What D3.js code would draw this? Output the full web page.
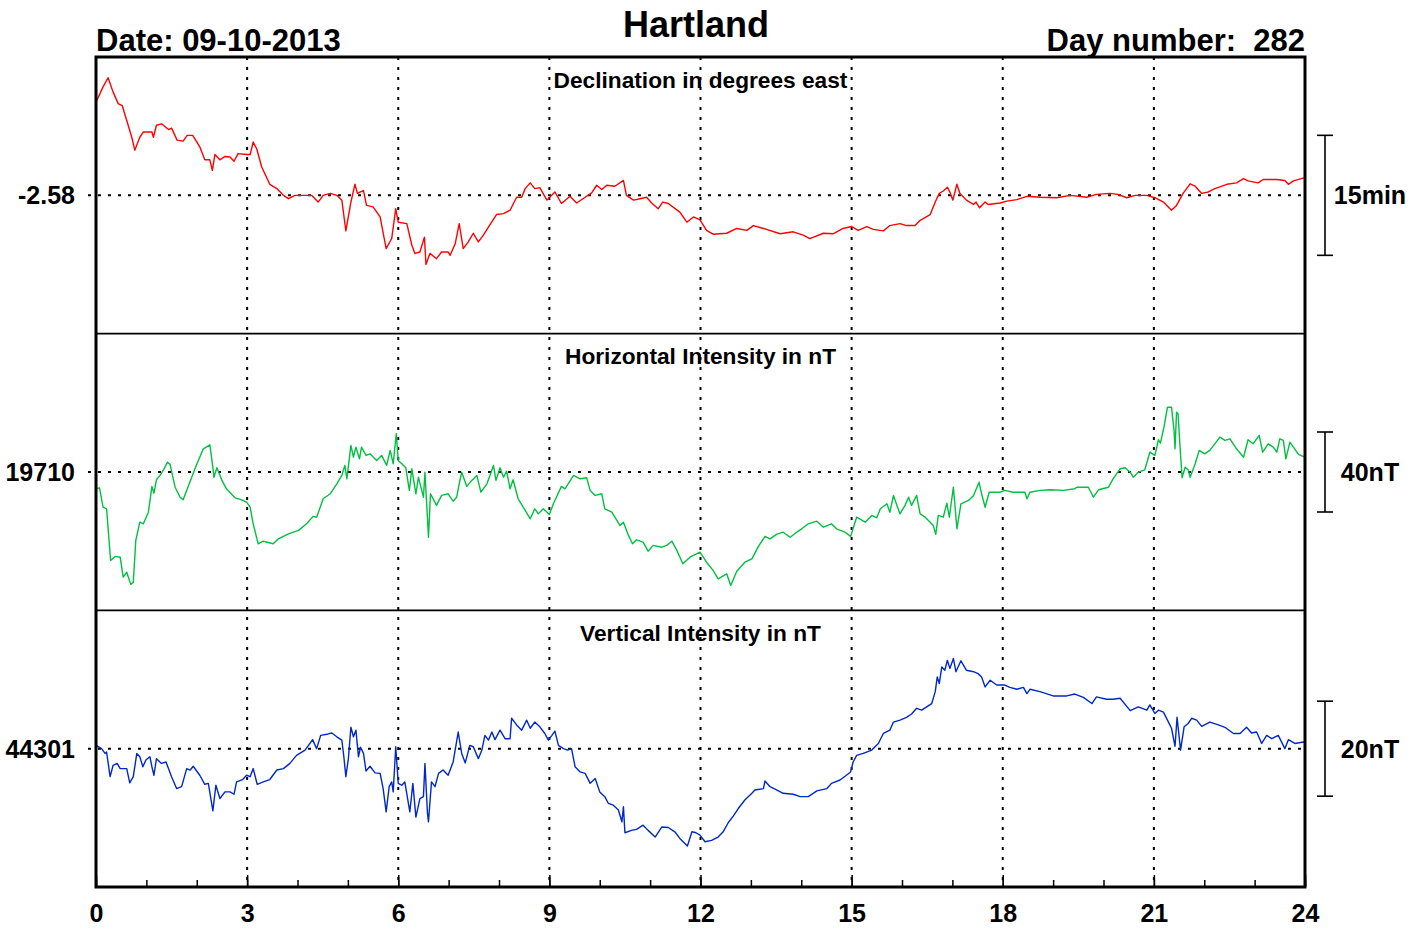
<!DOCTYPE html>
<html>
<head>
<meta charset="utf-8">
<script src="https://cdn.jsdelivr.net/npm/d3@7"></script>
<style>
  body { margin: 0; background: #fff; }
  svg { display: block; font-family: "Liberation Sans", Arial, Helvetica, sans-serif; font-weight: bold; }
</style>
</head>
<body>
<div id="chart"></div>
<script>
// values (hours UT / degrees / nT)
const D_HOURS = [0.00,0.14,0.24,0.34,0.44,0.52,0.61,0.71,0.77,0.87,0.94,1.11,1.14,1.20,1.30,1.44,1.50,1.61,1.73,1.81,1.92,2.06,2.16,2.26,2.31,2.36,2.46,2.56,2.66,2.74,2.82,2.99,3.06,3.12,3.19,3.29,3.45,3.59,3.72,3.82,3.95,4.28,4.41,4.51,4.65,4.78,4.88,4.96,5.06,5.14,5.19,5.25,5.31,5.37,5.50,5.64,5.76,5.87,5.95,6.00,6.17,6.27,6.33,6.43,6.52,6.55,6.63,6.76,6.86,6.99,7.03,7.13,7.21,7.29,7.39,7.49,7.59,7.69,7.79,7.95,8.09,8.22,8.35,8.45,8.52,8.62,8.71,8.81,8.95,9.11,9.24,9.41,9.54,9.71,9.84,9.94,10.04,10.14,10.30,10.47,10.53,10.67,10.80,10.93,11.03,11.16,11.25,11.36,11.59,11.73,11.86,11.99,12.12,12.25,12.52,12.72,12.92,13.05,13.25,13.58,13.84,14.04,14.17,14.44,14.64,14.83,15.00,15.13,15.30,15.43,15.63,15.76,15.96,16.09,16.26,16.36,16.56,16.66,16.74,16.82,16.90,16.95,17.01,17.09,17.15,17.28,17.42,17.47,17.54,17.65,17.71,17.95,18.08,18.28,18.48,18.74,19.07,19.34,19.67,19.86,20.13,20.29,20.46,20.63,20.86,21.02,21.19,21.35,21.45,21.58,21.72,21.82,21.95,22.08,22.21,22.45,22.64,22.78,22.87,23.07,23.17,23.44,23.60,23.67,23.77,24.00];
const D_VALUES = [-2.386,-2.354,-2.335,-2.365,-2.389,-2.393,-2.424,-2.459,-2.486,-2.459,-2.448,-2.448,-2.459,-2.434,-2.431,-2.443,-2.440,-2.465,-2.467,-2.455,-2.455,-2.479,-2.506,-2.506,-2.528,-2.495,-2.506,-2.499,-2.500,-2.509,-2.493,-2.495,-2.495,-2.469,-2.483,-2.521,-2.557,-2.566,-2.580,-2.587,-2.580,-2.580,-2.594,-2.580,-2.576,-2.580,-2.590,-2.654,-2.594,-2.557,-2.576,-2.573,-2.570,-2.601,-2.604,-2.625,-2.691,-2.670,-2.608,-2.636,-2.639,-2.684,-2.701,-2.698,-2.667,-2.724,-2.701,-2.712,-2.698,-2.698,-2.705,-2.681,-2.639,-2.691,-2.677,-2.659,-2.677,-2.663,-2.646,-2.620,-2.618,-2.611,-2.584,-2.584,-2.566,-2.554,-2.566,-2.564,-2.590,-2.573,-2.597,-2.582,-2.596,-2.584,-2.575,-2.559,-2.568,-2.559,-2.561,-2.549,-2.580,-2.590,-2.587,-2.584,-2.596,-2.608,-2.594,-2.597,-2.615,-2.636,-2.625,-2.631,-2.653,-2.661,-2.659,-2.649,-2.653,-2.643,-2.649,-2.660,-2.656,-2.663,-2.670,-2.659,-2.660,-2.649,-2.645,-2.653,-2.645,-2.651,-2.654,-2.643,-2.639,-2.643,-2.643,-2.632,-2.620,-2.594,-2.576,-2.571,-2.563,-2.573,-2.590,-2.557,-2.576,-2.590,-2.599,-2.594,-2.606,-2.594,-2.599,-2.596,-2.592,-2.589,-2.582,-2.584,-2.585,-2.580,-2.584,-2.578,-2.576,-2.578,-2.585,-2.580,-2.580,-2.585,-2.594,-2.611,-2.601,-2.576,-2.556,-2.561,-2.576,-2.573,-2.566,-2.557,-2.554,-2.545,-2.550,-2.554,-2.547,-2.547,-2.549,-2.557,-2.550,-2.543];

const H_HOURS = [0.00,0.07,0.14,0.21,0.29,0.38,0.48,0.54,0.61,0.69,0.74,0.79,0.87,0.94,1.04,1.11,1.15,1.20,1.27,1.34,1.42,1.47,1.57,1.67,1.73,1.83,1.99,2.13,2.26,2.32,2.34,2.40,2.50,2.59,2.76,2.89,2.99,3.06,3.12,3.22,3.32,3.52,3.62,3.82,4.02,4.18,4.31,4.38,4.51,4.65,4.78,4.88,4.94,4.98,5.06,5.11,5.16,5.23,5.27,5.36,5.44,5.57,5.67,5.77,5.84,5.90,5.96,6.00,6.07,6.15,6.22,6.27,6.35,6.40,6.50,6.53,6.60,6.64,6.76,6.86,6.99,7.09,7.16,7.21,7.26,7.36,7.46,7.56,7.64,7.76,7.82,7.89,7.94,8.02,8.09,8.15,8.22,8.28,8.38,8.52,8.62,8.71,8.78,8.88,9.00,9.08,9.24,9.31,9.48,9.61,9.74,9.81,9.91,10.04,10.10,10.24,10.30,10.40,10.47,10.57,10.65,10.73,10.86,10.96,11.06,11.23,11.33,11.43,11.53,11.65,11.79,11.99,12.12,12.25,12.35,12.52,12.60,12.72,12.88,13.02,13.15,13.28,13.38,13.51,13.64,13.78,13.91,14.01,14.14,14.31,14.44,14.60,14.70,14.87,14.98,15.10,15.27,15.40,15.50,15.57,15.70,15.76,15.83,15.90,15.96,16.06,16.13,16.19,16.29,16.36,16.46,16.56,16.62,16.67,16.72,16.82,16.89,16.94,17.02,17.09,17.17,17.32,17.42,17.53,17.58,17.65,17.73,17.95,18.04,18.21,18.44,18.48,18.54,18.74,18.94,19.20,19.43,19.47,19.70,19.80,19.90,20.10,20.19,20.33,20.43,20.53,20.59,20.69,20.82,20.92,21.02,21.09,21.13,21.20,21.27,21.35,21.40,21.42,21.45,21.48,21.52,21.56,21.62,21.68,21.72,21.82,21.90,22.01,22.11,22.21,22.31,22.41,22.51,22.64,22.78,22.87,22.97,23.09,23.16,23.27,23.37,23.44,23.50,23.57,23.62,23.70,23.77,23.87,24.00];
const H_VALUES = [19701.6,19702.1,19692.4,19691.6,19665.8,19667.8,19667.4,19657.4,19659.9,19653.8,19654.9,19675.8,19684.9,19684.1,19689.9,19702.8,19699.4,19706.1,19708.3,19711.1,19714.9,19713.8,19702.4,19697.4,19696.1,19702.8,19713.3,19721.6,19723.6,19712.4,19707.4,19712.1,19705.8,19701.6,19697.1,19696.1,19694.9,19692.4,19684.1,19674.1,19675.4,19674.1,19676.6,19679.1,19680.8,19684.1,19687.8,19687.4,19696.6,19699.1,19704.1,19708.3,19713.3,19706.6,19723.3,19717.4,19722.4,19716.6,19722.4,19718.3,19719.1,19715.8,19718.3,19713.3,19720.8,19714.1,19729.1,19715.8,19714.1,19712.1,19700.8,19711.6,19699.1,19707.4,19697.4,19709.9,19677.4,19699.1,19693.3,19698.3,19699.1,19695.4,19697.4,19704.1,19709.9,19702.8,19705.8,19708.3,19699.9,19704.1,19708.3,19713.3,19705.8,19712.1,19707.4,19710.4,19701.6,19706.1,19696.6,19690.8,19686.6,19691.6,19689.1,19691.6,19688.8,19694.1,19702.8,19701.6,19708.3,19706.6,19707.1,19700.8,19698.3,19699.1,19691.6,19689.9,19687.4,19683.3,19684.9,19678.3,19674.1,19676.1,19674.9,19670.4,19673.3,19672.4,19673.3,19675.4,19670.8,19664.1,19667.4,19669.9,19664.9,19660.8,19656.6,19659.1,19653.3,19660.4,19664.9,19666.6,19672.8,19677.8,19676.6,19678.8,19679.9,19677.4,19679.9,19681.6,19684.1,19685.4,19682.4,19684.1,19681.6,19679.9,19677.8,19687.4,19684.9,19688.3,19687.1,19691.6,19694.1,19689.9,19698.3,19693.3,19689.1,19693.3,19697.4,19693.3,19698.3,19689.1,19687.4,19684.9,19683.3,19678.8,19688.3,19687.4,19694.4,19687.4,19702.4,19681.6,19694.1,19695.8,19698.3,19704.9,19699.1,19692.4,19699.9,19699.9,19700.8,19699.9,19699.9,19696.6,19699.9,19700.8,19701.1,19700.8,19701.6,19702.4,19702.4,19697.4,19701.1,19702.4,19706.6,19711.6,19712.1,19709.9,19707.4,19709.9,19711.1,19719.9,19718.3,19726.1,19724.4,19732.4,19742.4,19742.4,19730.8,19721.6,19739.9,19739.1,19722.4,19707.1,19712.4,19711.1,19707.4,19714.1,19720.8,19719.1,19720.8,19724.1,19727.4,19725.8,19726.6,19721.6,19717.4,19726.1,19724.1,19728.3,19719.9,19724.1,19722.4,19719.9,19726.6,19725.8,19716.6,19724.9,19722.4,19718.8,19717.4];

const Z_HOURS = [0.00,0.11,0.18,0.21,0.28,0.34,0.42,0.48,0.54,0.61,0.67,0.74,0.81,0.87,0.93,0.99,1.07,1.11,1.15,1.20,1.30,1.39,1.50,1.60,1.70,1.80,1.87,1.93,2.06,2.16,2.23,2.32,2.38,2.46,2.56,2.66,2.74,2.79,2.91,2.99,3.06,3.12,3.20,3.32,3.45,3.59,3.72,3.85,3.98,4.15,4.30,4.38,4.46,4.61,4.68,4.78,4.88,4.92,4.96,5.01,5.06,5.11,5.16,5.21,5.25,5.31,5.36,5.44,5.54,5.64,5.70,5.76,5.82,5.87,5.90,5.95,6.00,6.07,6.13,6.23,6.29,6.35,6.43,6.50,6.53,6.58,6.60,6.66,6.73,6.80,6.89,6.99,7.09,7.19,7.26,7.33,7.42,7.49,7.59,7.66,7.72,7.79,7.86,7.92,8.02,8.12,8.22,8.25,8.35,8.45,8.55,8.62,8.71,8.81,8.91,8.98,9.05,9.11,9.18,9.28,9.36,9.44,9.51,9.61,9.71,9.81,9.91,10.00,10.10,10.17,10.27,10.37,10.44,10.47,10.50,10.63,10.73,10.86,10.96,11.10,11.23,11.36,11.49,11.59,11.74,11.83,11.91,11.99,12.09,12.22,12.35,12.45,12.55,12.65,12.75,12.88,13.02,13.08,13.25,13.28,13.38,13.51,13.64,13.84,13.98,14.14,14.31,14.51,14.60,14.77,14.87,14.98,15.03,15.10,15.23,15.40,15.53,15.63,15.76,15.83,15.96,16.09,16.19,16.29,16.39,16.49,16.59,16.66,16.70,16.74,16.79,16.85,16.90,16.95,17.02,17.07,17.17,17.28,17.42,17.51,17.58,17.65,17.75,17.88,18.04,18.14,18.28,18.41,18.48,18.54,18.74,19.00,19.27,19.43,19.60,19.77,19.86,20.06,20.19,20.33,20.53,20.69,20.86,20.92,21.02,21.09,21.19,21.29,21.35,21.42,21.46,21.53,21.60,21.68,21.75,21.85,21.95,22.11,22.28,22.41,22.58,22.71,22.84,22.94,23.04,23.14,23.24,23.34,23.47,23.60,23.67,23.80,23.97,24.00];
const Z_VALUES = [44301.7,44301.0,44300.0,44300.3,44295.1,44297.5,44297.9,44296.8,44296.8,44296.8,44293.8,44295.1,44300.0,44299.3,44297.2,44298.6,44299.3,44297.2,44295.4,44298.9,44297.9,44298.2,44295.1,44292.6,44293.0,44296.8,44296.5,44297.3,44295.4,44293.5,44293.7,44287.9,44293.3,44290.5,44291.9,44291.9,44291.4,44294.0,44294.5,44295.4,44295.1,44296.8,44293.5,44294.0,44294.5,44296.5,44296.8,44297.9,44299.6,44300.7,44302.9,44301.0,44303.8,44304.1,44304.3,44303.5,44302.8,44299.3,44295.1,44298.9,44305.5,44303.5,44304.9,44299.3,44301.3,44300.0,44296.3,44297.3,44295.9,44295.8,44292.6,44287.7,44293.0,44294.0,44291.9,44301.4,44293.7,44293.3,44294.0,44287.7,44293.7,44286.6,44290.5,44290.9,44297.9,44287.4,44285.6,44294.0,44293.0,44295.8,44296.5,44295.4,44298.2,44304.5,44300.0,44298.0,44301.7,44301.4,44298.9,44300.7,44303.8,44302.8,44304.5,44302.9,44304.9,44303.1,44303.1,44307.4,44306.0,44304.9,44307.0,44305.3,44306.6,44305.6,44304.2,44302.8,44303.8,44304.7,44301.7,44301.0,44300.7,44301.0,44297.2,44296.1,44295.8,44293.7,44294.7,44291.9,44290.9,44289.5,44289.1,44288.1,44285.6,44288.8,44283.3,44283.8,44284.0,44284.9,44283.8,44282.4,44284.5,44284.4,44283.5,44282.1,44280.5,44283.5,44283.3,44282.8,44281.4,44281.7,44282.4,44283.5,44285.4,44286.8,44288.4,44290.2,44291.6,44292.3,44292.6,44294.2,44293.0,44292.3,44291.6,44291.4,44290.9,44290.9,44292.1,44292.6,44293.7,44294.4,44295.2,44296.1,44298.2,44299.6,44300.0,44300.7,44302.1,44304.2,44304.9,44306.6,44307.0,44307.6,44308.3,44309.5,44309.1,44309.8,44310.5,44313.0,44316.1,44314.7,44318.2,44317.5,44319.6,44317.9,44320.0,44317.2,44319.5,44317.5,44317.2,44316.8,44316.1,44314.0,44315.4,44314.4,44314.4,44313.9,44313.5,44313.9,44312.6,44313.5,44313.0,44312.1,44312.1,44312.5,44311.8,44310.5,44311.9,44311.4,44311.4,44311.6,44309.0,44309.8,44309.1,44310.2,44308.4,44309.1,44308.7,44306.6,44305.3,44301.5,44307.6,44300.7,44305.6,44306.3,44307.4,44307.0,44305.7,44306.6,44306.0,44305.5,44304.2,44304.2,44305.5,44304.3,44304.5,44302.1,44303.8,44303.1,44303.8,44301.0,44302.9,44302.1,44302.4,44302.2];

const X_TICKS = [0, 3, 6, 9, 12, 15, 18, 21, 24];
const PANEL_TITLES = ["Declination in degrees east", "Horizontal Intensity in nT", "Vertical Intensity in nT"];
const BASELINES = [-2.58, 19710, 44301];
const BASELINE_LABELS = ["-2.58", "19710", "44301"];
const SCALE_SPANS = [0.25, 40, 20];          // 15 arcmin, 40 nT, 20 nT
const SCALE_LABELS = ["15min", "40nT", "20nT"];

// layout
const W = 1421, H = 930;
const L = 96, R = 1305, TOP = 57, BOTTOM = 887;
const PANEL_H = (BOTTOM - TOP) / 3;
const BAR_PX = [120, 80, 95];                // drawn length of each scale bar
const COLORS = ["#ff0000", "#00c040", "#0028c8"];

const svg = d3.select("#chart").append("svg")
  .attr("width", W).attr("height", H).attr("viewBox", `0 0 ${W} ${H}`);

const x = d3.scaleLinear().domain([0, 24]).range([L, R]);

const series = [
  d3.zip(D_HOURS, D_VALUES),
  d3.zip(H_HOURS, H_VALUES),
  d3.zip(Z_HOURS, Z_VALUES)
];

// vertical dotted hour lines
svg.append("g").selectAll("line")
  .data(X_TICKS.slice(1, -1))
  .join("line")
  .attr("x1", d => x(d)).attr("x2", d => x(d))
  .attr("y1", TOP).attr("y2", BOTTOM)
  .attr("stroke", "#000").attr("stroke-width", 2)
  .attr("stroke-dasharray", "3,7");

series.forEach((data, i) => {
  const top = TOP + i * PANEL_H, bot = top + PANEL_H, mid = (top + bot) / 2;
  const half = (PANEL_H / 2) * SCALE_SPANS[i] / BAR_PX[i];
  const y = d3.scaleLinear()
    .domain([BASELINES[i] - half, BASELINES[i] + half])
    .range([bot, top]);

  const clipId = "clip" + i;
  svg.append("clipPath").attr("id", clipId)
    .append("rect").attr("x", L).attr("y", top).attr("width", R - L).attr("height", PANEL_H);

  // baseline
  svg.append("line")
    .attr("x1", 88).attr("x2", R)
    .attr("y1", y(BASELINES[i])).attr("y2", y(BASELINES[i]))
    .attr("stroke", "#000").attr("stroke-width", 2)
    .attr("stroke-dasharray", "3,7");

  svg.append("text")
    .attr("x", 75).attr("y", y(BASELINES[i])).attr("dy", "0.36em")
    .attr("text-anchor", "end").attr("font-size", 25)
    .text(BASELINE_LABELS[i]);

  svg.append("text")
    .attr("x", (L + R) / 2).attr("y", top + 30.5)
    .attr("text-anchor", "middle").attr("font-size", 22.7)
    .text(PANEL_TITLES[i]);

  // trace
  svg.append("path")
    .datum(data)
    .attr("clip-path", `url(#${clipId})`)
    .attr("fill", "none")
    .attr("stroke", COLORS[i])
    .attr("stroke-width", 1.4)
    .attr("stroke-linejoin", "round")
    .attr("d", d3.line().x(d => x(d[0])).y(d => y(d[1])));

  // scale bar
  const y0 = y(BASELINES[i] - SCALE_SPANS[i] / 2), y1 = y(BASELINES[i] + SCALE_SPANS[i] / 2);
  const sb = svg.append("g").attr("stroke", "#000").attr("stroke-width", 1.6);
  sb.append("line").attr("x1", 1325).attr("x2", 1325).attr("y1", y0).attr("y2", y1);
  sb.append("line").attr("x1", 1317).attr("x2", 1333).attr("y1", y0).attr("y2", y0);
  sb.append("line").attr("x1", 1317).attr("x2", 1333).attr("y1", y1).attr("y2", y1);

  svg.append("text")
    .attr("x", 1370).attr("y", mid).attr("dy", "0.36em")
    .attr("text-anchor", "middle").attr("font-size", 25)
    .text(SCALE_LABELS[i]);

  if (i > 0) {
    svg.append("line")
      .attr("x1", L).attr("x2", R).attr("y1", top).attr("y2", top)
      .attr("stroke", "#000").attr("stroke-width", 1.6);
  }
});

// frame
svg.append("rect")
  .attr("x", L).attr("y", TOP).attr("width", R - L).attr("height", BOTTOM - TOP)
  .attr("fill", "none").attr("stroke", "#000").attr("stroke-width", 3);

// hour ticks on the bottom axis
const minor = svg.append("g").attr("transform", `translate(0,${BOTTOM})`)
  .call(d3.axisBottom(x).tickValues(d3.range(0, 25)).tickSize(-7).tickFormat(""));
minor.select(".domain").remove();
minor.selectAll("line").attr("stroke-width", 1.5);

const major = svg.append("g").attr("transform", `translate(0,${BOTTOM})`)
  .call(d3.axisBottom(x).tickValues(X_TICKS).tickSize(-12).tickPadding(17).tickFormat(d3.format("d")));
major.select(".domain").remove();
major.selectAll("line").attr("stroke-width", 1.5);
major.selectAll("text")
  .attr("font-size", 25).attr("font-weight", "bold")
  .attr("font-family", "'Liberation Sans', Arial, sans-serif").attr("fill", "#000");

// header
svg.append("text").attr("x", 696).attr("y", 37)
  .attr("text-anchor", "middle").attr("font-size", 36).text("Hartland");
svg.append("text").attr("x", 96).attr("y", 51)
  .attr("font-size", 31).text("Date: 09-10-2013");
svg.append("text").attr("x", 1305).attr("y", 51)
  .attr("text-anchor", "end").attr("font-size", 31)
  .attr("xml:space", "preserve").style("white-space", "pre")
  .text("Day number:  282");
</script>
</body>
</html>
